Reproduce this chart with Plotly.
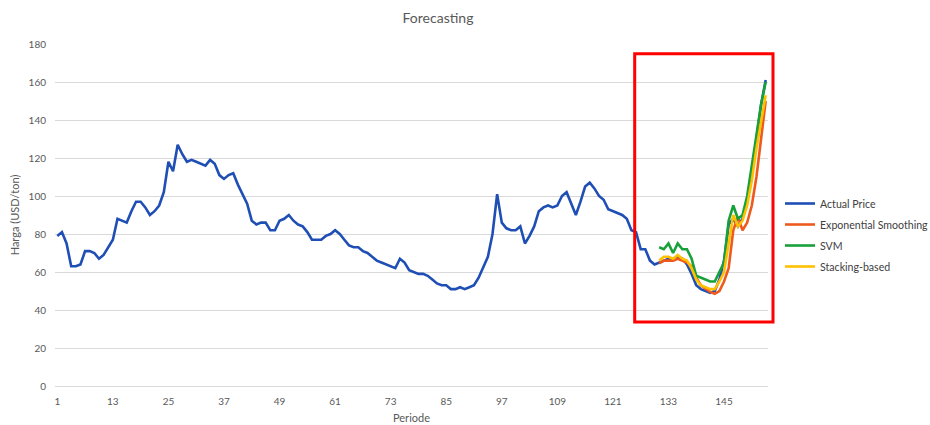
import plotly.graph_objects as go

# Monthly price series (periods 1..154)
actual_price = [
    79, 81, 75, 63, 63, 64, 71, 71, 70, 67, 69, 73, 77, 88, 87, 86, 92, 97, 97, 94,
    90, 92, 95, 102, 118, 113, 127, 122, 118, 119, 118, 117, 116, 119, 117, 111, 109, 111, 112, 106,
    101, 96, 87, 85, 86, 86, 82, 82, 87, 88, 90, 87, 85, 84, 81, 77, 77, 77, 79, 80,
    82, 80, 77, 74, 73, 73, 71, 70, 68, 66, 65, 64, 63, 62, 67, 65, 61, 60, 59, 59,
    58, 56, 54, 53, 53, 51, 51, 52, 51, 52, 53, 57, 63, 68, 80, 101, 86, 83, 82, 82,
    84, 75, 79, 84, 92, 94, 95, 94, 95, 100, 102, 96, 90, 97, 105, 107, 104, 100, 98, 93,
    92, 91, 90, 88, 82, 81, 72, 72, 66, 64, 65, 66, 67, 67, 68, 67, 64, 59, 53, 51,
    50, 49, 50, 56, 66, 85, 88, 84, 88, 97, 112, 130, 148, 161,
]

# Forecasts over the test window (periods 131..154)
forecast_start = 131
exp_smoothing = [64.5, 66, 66, 66, 67, 66, 65, 63, 57, 53, 51, 49.5, 48.5, 50, 55, 62,
                 82, 89, 82, 86, 95, 110, 130, 150]
svm = [73, 72, 75, 70, 75, 72, 72, 67, 58, 57, 56, 55, 55, 60, 65, 87,
       95, 88, 90, 100, 115, 132, 148, 160]
stacking = [66, 68, 68, 67, 69, 67, 66, 62, 56, 53, 52, 51, 51, 55, 60, 76,
            90, 84, 87, 95, 108, 125, 140, 153]

periods = list(range(1, len(actual_price) + 1))
fc_periods = list(range(forecast_start, forecast_start + len(svm)))
tick_vals = list(range(1, len(actual_price) + 1, 12))

# plot-area geometry in pixels
W, H = 930, 425
L, R, T, B = 55, 768, 44, 386

font = "Lato, 'Open Sans', sans-serif"
grey = "#595959"

fig = go.Figure()
series = [
    ("Actual Price", periods, actual_price, "#1F4FB4"),
    ("Exponential Smoothing", fc_periods, exp_smoothing, "#EE5A1E"),
    ("SVM", fc_periods, svm, "#18A03A"),
    ("Stacking-based", fc_periods, stacking, "#FFC000"),
]
for name, xs, ys, col in series:
    fig.add_trace(go.Scatter(x=xs, y=ys, mode="lines", name=name, legendgroup=name,
                             line=dict(color=col, width=2.6)))


def px_x(p):
    return (p - L) / (R - L)


def px_y(p):
    return (B - p) / (B - T)


# highlight box around the forecast window
fig.add_shape(type="rect", xref="paper", yref="paper",
              x0=px_x(634.7), x1=px_x(773), y0=px_y(322), y1=px_y(53.8),
              line=dict(color="#FF0000", width=3), fillcolor="rgba(0,0,0,0)")

fig.update_layout(
    width=W, height=H,
    margin=dict(l=L, r=W - R, t=T, b=H - B, pad=0, autoexpand=False),
    paper_bgcolor="white", plot_bgcolor="white",
    font=dict(family=font, color=grey, size=10),
    title=dict(text="Forecasting", x=438 / W, xanchor="center", y=1 - 18 / H, yanchor="middle",
               font=dict(size=14, color=grey, family=font)),
    showlegend=True,
    legend=dict(x=px_x(780), xanchor="left", y=px_y(189), yanchor="top",
                font=dict(size=10.6, color="#404040", family=font),
                itemwidth=30, tracegroupgap=2, bgcolor="rgba(0,0,0,0)"),
    xaxis=dict(range=[0.5, len(actual_price) + 0.5], tickmode="array", tickvals=tick_vals,
               ticktext=[str(v) for v in tick_vals], showgrid=False, zeroline=False,
               showline=False, ticks="", tickfont=dict(size=10, color=grey),
               ticklabelstandoff=8,
               title=dict(text="Periode", font=dict(size=11, color=grey), standoff=8)),
    yaxis=dict(range=[0, 180], tickvals=list(range(0, 181, 20)), showgrid=True,
               gridcolor="#D9D9D9", gridwidth=1, zeroline=True, zerolinecolor="#D9D9D9",
               zerolinewidth=1, showline=False, ticks="", tickfont=dict(size=10, color=grey),
               ticklabelstandoff=8,
               title=dict(text="Harga (USD/ton)", font=dict(size=11, color=grey), standoff=6)),
)

fig.write_html("out.html")
